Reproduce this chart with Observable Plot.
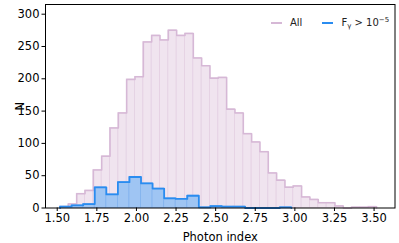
<!DOCTYPE html>
<html><head><meta charset="utf-8">
<script src="https://cdn.jsdelivr.net/npm/d3@7"></script>
<script src="https://cdn.jsdelivr.net/npm/@observablehq/plot@0.6"></script>
<style>
body{margin:0;background:#fff;}
#wrap{position:relative;width:399px;height:243px;font-family:"DejaVu Sans",sans-serif;}
#legend{position:absolute;top:13px;left:271px;font-size:10px;display:flex;align-items:center;white-space:nowrap;color:#222;line-height:14px}
.sw{display:inline-block;width:11px;height:1.5px;margin-right:8px;}
sub{font-size:7px;vertical-align:-2px}
sup{font-size:7px;vertical-align:4px}
svg text{font-family:"DejaVu Sans",sans-serif;}
</style></head><body><div id="wrap"><div id="legend"></div></div>
<script>
// All sources: counts per bin (38 equal bins)
const allCounts = [2, 6, 22, 27, 59, 80, 124, 147, 199, 203, 257, 267, 260, 275, 267, 270, 232, 220, 201, 202,
                   153, 147, 115, 102, 87, 54, 43, 32, 34, 17, 13, 8, 8, 3, 0, 1, 1, 2];
const allRange = [1.518, 3.516];
// Bright sources (F_gamma > 1e-5): counts per bin (20 equal bins)
const brightCounts = [2, 4, 6, 32, 21, 40, 48, 38, 30, 15, 14, 19, 1, 3, 2, 2, 0, 0, 0, 1];
const brightRange = [1.518, 2.978];
const xTicks = [1.5, 1.75, 2.0, 2.25, 2.5, 2.75, 3.0, 3.25, 3.5];
const yTicks = [0, 50, 100, 150, 200, 250, 300];
const xDomain = [1.426, 3.632];
const yDomain = [0, 315];
const seriesNames = ["All", "F<sub>γ</sub> &gt; 10<sup>−5</sup>"];
const colors = {allFill:"#f0e4ef", allEdge:"#e4d0e3", allLine:"#d6b8d6",
                brightFill:"#9fc5f3", brightEdge:"#82b2ee", brightLine:"#2a8cf0"};

function bins(counts, range){
  const w = (range[1]-range[0])/counts.length;
  return counts.map((c,i)=>({x1:range[0]+i*w, x2:range[0]+(i+1)*w, y:c}));
}
function outline(b){
  const pts=[{x:b[0].x1,y:0}];
  b.forEach(d=>pts.push({x:d.x1,y:d.y}));
  const l=b[b.length-1];
  pts.push({x:l.x2,y:l.y}); pts.push({x:l.x2,y:0});
  return pts;
}
const allBins = bins(allCounts, allRange);
const brightBins = bins(brightCounts, brightRange);

const chart = Plot.plot({
  width:399, height:243,
  marginLeft:45, marginRight:4.5, marginTop:4, marginBottom:35.5,
  style:{fontFamily:"DejaVu Sans", fontSize:"11px", color:"black", background:"white"},
  x:{domain:xDomain},
  y:{domain:yDomain},
  marks:[
    Plot.rectY(allBins,{x1:"x1",x2:"x2",y:"y",fill:colors.allFill,stroke:colors.allEdge,strokeWidth:0.8}),
    Plot.line(outline(allBins),{x:"x",y:"y",curve:"step-after",stroke:colors.allLine,strokeWidth:1.5}),
    Plot.rectY(brightBins,{x1:"x1",x2:"x2",y:"y",fill:colors.brightFill,stroke:colors.brightEdge,strokeWidth:0.8}),
    Plot.line(outline(brightBins),{x:"x",y:"y",curve:"step-after",stroke:colors.brightLine,strokeWidth:1.8}),
    Plot.frame({stroke:"black",strokeWidth:1}),
    Plot.axisX({ticks:xTicks,tickFormat:d3.format(".2f"),tickSize:3.5,tickPadding:2,fontSize:11.5,label:"Photon index",labelAnchor:"center",labelOffset:33,labelArrow:false}),
    Plot.axisY({ticks:yTicks,tickSize:3.5,tickPadding:2.5,fontSize:11.5,label:"N",labelAnchor:"center",labelOffset:30,labelArrow:false})
  ]
});
document.getElementById("wrap").prepend(chart);
const lg = document.getElementById("legend");
lg.innerHTML = `<span class="sw" style="background:${colors.allLine}"></span><span style="margin-right:20px">${seriesNames[0]}</span>`+
  `<span class="sw" style="background:${colors.brightLine}"></span><span>${seriesNames[1]}</span>`;
</script></body></html>
